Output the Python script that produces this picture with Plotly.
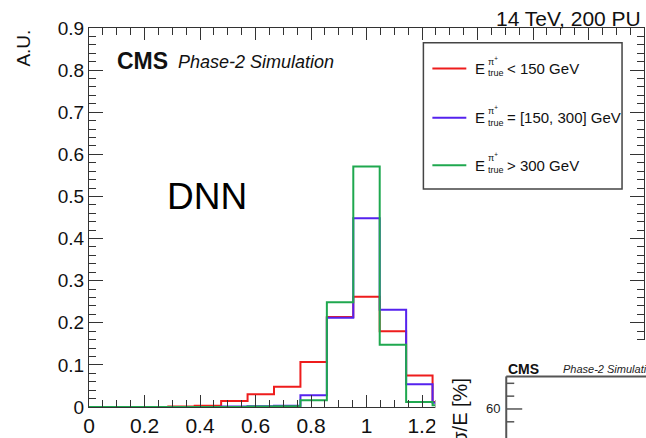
import numpy as np
import plotly.graph_objects as go

# ---------------- data ----------------
n_bins = 21
x_min, x_max = 0.0, 2.0
red_vals = [0, 0, 0, 0.001, 0.003, 0.014, 0.030, 0.048, 0.107, 0.214, 0.262, 0.180, 0.075, 0.012]
blue_vals = [0, 0, 0, 0, 0, 0.001, 0.002, 0.003, 0.028, 0.212, 0.448, 0.231, 0.054, 0.010]
green_vals = [0, 0, 0, 0, 0, 0, 0.001, 0.002, 0.016, 0.249, 0.571, 0.148, 0.012, 0.004]
series_names = ["< 150 GeV", "= [150, 300] GeV", "> 300 GeV"]
series_colors = ["#ee1c1c", "#5522ee", "#1fa84f"]
x_ticks = [0, 0.2, 0.4, 0.6, 0.8, 1.0, 1.2, 1.4, 1.6, 1.8, 2.0]
y_ticks = [0, 0.1, 0.2, 0.3, 0.4, 0.5, 0.6, 0.7, 0.8, 0.9]

edges = np.linspace(x_min, x_max, n_bins + 1)

W, H = 646, 438
L, R, T, B = 89, 1, 28, 26
PW, PH = W - L - R, H - T - B


def X(px):
    return (px - L) / PW


def Y(py):
    return (H - B - py) / PH


fig = go.Figure()
for vals, name, col in zip([red_vals, blue_vals, green_vals], series_names, series_colors):
    xs = list(edges[: len(vals) + 1])
    ys = list(vals) + [vals[-1]]
    fig.add_trace(go.Scatter(x=xs, y=ys, mode="lines", line=dict(color=col, width=2, shape="hv"),
                             name=name, showlegend=False, hoverinfo="skip"))

axcol = "#333333"
font = "Liberation Sans, Arial, Helvetica, sans-serif"

fig.update_xaxes(range=[x_min, x_max], tickvals=x_ticks, ticks="inside", ticklen=12, tickwidth=1,
                 tickcolor=axcol, showline=True, linecolor=axcol, linewidth=1, mirror="allticks",
                 showgrid=False, zeroline=False, tickfont=dict(family=font, size=21, color="#111"),
                 minor=dict(ticks="inside", ticklen=7, dtick=0.05, tickcolor=axcol, showgrid=False))
fig.update_yaxes(range=[0, 0.9], tickvals=y_ticks, ticks="inside", ticklen=14, tickwidth=1,
                 tickcolor=axcol, showline=True, linecolor=axcol, linewidth=1, mirror="allticks",
                 showgrid=False, zeroline=False, tickfont=dict(family=font, size=19, color="#111"),
                 minor=dict(ticks="inside", ticklen=7, dtick=0.02, tickcolor=axcol, showgrid=False))

shapes = []
annos = []

# legend box
shapes.append(dict(type="rect", xref="paper", yref="paper", x0=X(424), x1=X(623), y0=Y(43), y1=Y(191),
                   line=dict(color="#444", width=1.5), fillcolor="white", layer="above"))
leg_y = [69, 119, 167]
for yy, name, col in zip(leg_y, series_names, series_colors):
    shapes.append(dict(type="line", xref="paper", yref="paper", x0=X(433), x1=X(467), y0=Y(yy), y1=Y(yy),
                       line=dict(color=col, width=2), layer="above"))
    annos.append(dict(x=X(474), y=Y(yy), text="E", xanchor="left", yanchor="middle",
                      font=dict(family=font, size=15, color="#111")))
    annos.append(dict(x=X(487), y=Y(yy + 5), text="true", xanchor="left", yanchor="middle",
                      font=dict(family=font, size=9, color="#111")))
    annos.append(dict(x=X(487), y=Y(yy - 8), text="π<sup>+</sup>", xanchor="left", yanchor="middle",
                      font=dict(family=font, size=9, color="#111")))
    annos.append(dict(x=X(506), y=Y(yy), text=name, xanchor="left", yanchor="middle",
                      font=dict(family=font, size=15, color="#111")))

# texts
annos.append(dict(x=X(644), y=Y(18), text="14 TeV, 200 PU", xanchor="right", yanchor="middle",
                  font=dict(family=font, size=21, color="#111")))
annos.append(dict(x=X(23), y=Y(28), text="A.U.", textangle=-90, xanchor="center", yanchor="top",
                  font=dict(family=font, size=19, color="#111")))
annos.append(dict(x=X(115), y=Y(61), text="<b>CMS</b>", xanchor="left", yanchor="middle",
                  font=dict(family=font, size=23, color="#111")))
annos.append(dict(x=X(176), y=Y(62), text="<i>Phase-2 Simulation</i>", xanchor="left", yanchor="middle",
                  font=dict(family=font, size=18, color="#111")))
annos.append(dict(x=X(165), y=Y(199), text="DNN", xanchor="left", yanchor="middle",
                  font=dict(family=font, size=37, color="#000")))

# white cover over lower-right region + inset panel fragment
shapes.append(dict(type="rect", xref="paper", yref="paper", x0=X(436), x1=X(650), y0=Y(344), y1=Y(445),
                   line=dict(width=0), fillcolor="white", layer="above"))
shapes.append(dict(type="line", xref="paper", yref="paper", x0=X(507), x1=X(650), y0=Y(381), y1=Y(381),
                   line=dict(color="#555", width=2), layer="above"))
shapes.append(dict(type="line", xref="paper", yref="paper", x0=X(507), x1=X(507), y0=Y(381), y1=Y(445),
                   line=dict(color="#555", width=2), layer="above"))
for ty, ln in [(388, 8), (401, 8), (414, 16), (427, 8)]:
    shapes.append(dict(type="line", xref="paper", yref="paper", x0=X(507), x1=X(507 + ln), y0=Y(ty), y1=Y(ty),
                       line=dict(color="#555", width=1.5), layer="above"))
annos.append(dict(x=X(503), y=Y(414), text="60", xanchor="right", yanchor="middle",
                  font=dict(family=font, size=13, color="#222")))
annos.append(dict(x=X(507), y=Y(373), text="<b>CMS</b>", xanchor="left", yanchor="middle",
                  font=dict(family=font, size=14, color="#111")))
annos.append(dict(x=X(562), y=Y(374), text="<i>Phase-2 Simulation</i>", xanchor="left", yanchor="middle",
                  font=dict(family=font, size=11, color="#222")))
annos.append(dict(x=X(461), y=Y(380), text="σ/E [%]", textangle=-90, xanchor="center",
                  yanchor="top", font=dict(family=font, size=20, color="#111")))

for a in annos:
    a.update(xref="paper", yref="paper", showarrow=False)

fig.update_layout(width=W, height=H, margin=dict(l=L, r=R, t=T, b=B), paper_bgcolor="white",
                  plot_bgcolor="white", shapes=shapes, annotations=annos, showlegend=False)

fig.write_html("out.html")
